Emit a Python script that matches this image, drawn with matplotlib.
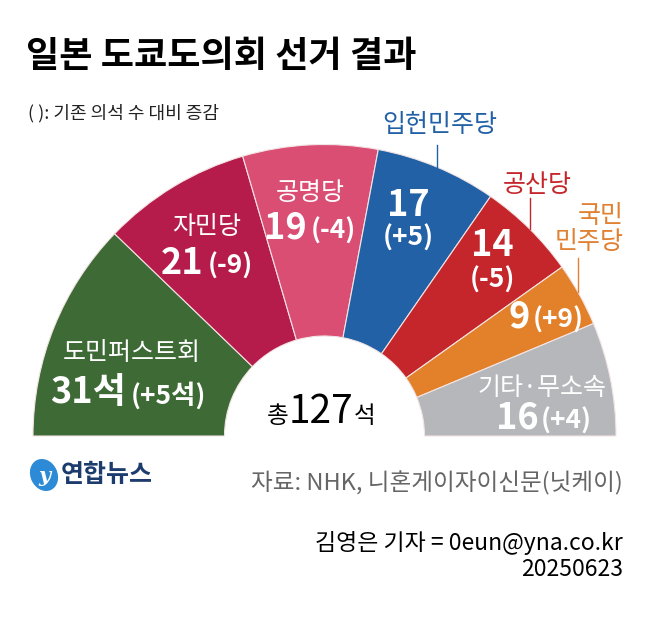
import numpy as np
import matplotlib.pyplot as plt
from matplotlib.patches import Wedge, Ellipse
from matplotlib.offsetbox import TextArea, HPacker, AnnotationBbox

plt.rcParams['font.family'] = ['Noto Sans CJK KR', 'DejaVu Sans']

# data
parties = ['도민퍼스트회', '자민당', '공명당', '입헌민주당', '공산당', '국민\n민주당', '기타·무소속']
seats = [31, 21, 19, 17, 14, 9, 16]
seat_text = ['31석', '21', '19', '17', '14', '9', '16']
changes = ['(+5석)', '(-9)', '(-4)', '(+5)', '(-5)', '(+9)', '(+4)']
colors = ['#3d6a35', '#b61c4b', '#da4e74', '#2261a6', '#c5262b', '#e3812b', '#b6b7ba']
total = sum(seats)

CX, CY, R, R_IN = 324.5, 436, 291.5, 100
NUM = ['Noto Sans CJK KR', 'DejaVu Sans']
KR = ['Noto Sans CJK KR', 'DejaVu Sans']

fig = plt.figure(figsize=(6.5, 6.4), dpi=100)
ax = fig.add_axes([0, 0, 1, 1])
ax.set_xlim(0, 650)
ax.set_ylim(640, 0)
ax.axis('off')

# half donut, left to right
start = 180.0
for s, c in zip(seats, colors):
    span = s / total * 180
    ax.add_patch(Wedge((CX, CY), R, start, start + span, width=R - R_IN,
                       facecolor=c, edgecolor='#f2e4e4', linewidth=0.8))
    start += span


def mixed(parts, xy, color='white', sep=2):
    # parts: list of (text, size, family, weight)
    areas = [TextArea(t, textprops=dict(fontsize=sz, family=fam, weight=w, color=color))
             for t, sz, fam, w in parts]
    box = HPacker(children=areas, align='baseline', pad=0, sep=sep)
    ab = AnnotationBbox(box, xy, xycoords='data', frameon=False,
                        box_alignment=(0.5, 0.5), pad=0)
    ax.add_artist(ab)


def leader(x, y0, color):
    y1 = CY - np.sqrt(R ** 2 - (x - CX) ** 2)
    ax.plot([x, x], [y0, y1], color=color, lw=1)


NAME = 18
BIG = 26
SMALL = 19

# inside labels on one line
inline = {0: ((132, 353), (128, 393)),
          1: ((207, 227), (207, 263)),
          2: ((310, 193), (310, 228)),
          6: ((542, 388), (544, 418))}
for i, (pn, pv) in inline.items():
    ax.text(pn[0], pn[1], parties[i], color='white', fontsize=NAME,
            ha='center', va='center')
    mixed([(seat_text[i], BIG, NUM, 'bold'), (changes[i], SMALL, NUM, 'bold')], pv,
          sep=1 if i == 6 else 3)

# 입헌민주당
ax.text(440, 125, parties[3], color=colors[3], fontsize=NAME, ha='center', va='center')
leader(437, 145, colors[3])
ax.text(408, 205, seat_text[3], color='white', fontsize=BIG, family=NUM,
        weight='bold', ha='center', va='center')
ax.text(408, 238, changes[3], color='white', fontsize=SMALL, family=NUM,
        weight='bold', ha='center', va='center')

# 공산당
ax.text(537, 185, parties[4], color=colors[4], fontsize=NAME, ha='center', va='center')
leader(530, 198, colors[4])
ax.text(492, 245, seat_text[4], color='white', fontsize=BIG, family=NUM,
        weight='bold', ha='center', va='center')
ax.text(492, 280, changes[4], color='white', fontsize=SMALL, family=NUM,
        weight='bold', ha='center', va='center')

# 국민민주당
ax.text(624, 229, parties[5], color='#e08030', fontsize=NAME, ha='right',
        va='center', linespacing=1.0)
leader(578, 258, '#e08030')
mixed([(seat_text[5], BIG, NUM, 'bold'), (changes[5], SMALL, NUM, 'bold')], (546, 317))

# total in the hole
mixed([('총', 17, KR, 'normal'), (str(total), 28, NUM, 'normal'), ('석', 17, KR, 'normal')],
      (321, 412), color='black', sep=0)

# titles
ax.text(26, 57, '일본 도쿄도의회 선거 결과', fontsize=26, weight='bold',
        ha='left', va='center', color='black')
ax.text(28, 113, '( ): 기존 의석 수 대비 증감', fontsize=13,
        ha='left', va='center', color='#222222')

# logo
ax.add_patch(Ellipse((44, 475), 27, 33, angle=-25, facecolor='#2c8ad6', edgecolor='none'))
ax.text(44, 476, 'y', color='white', fontsize=15, style='italic', weight='bold',
        family='DejaVu Serif', ha='center', va='center')
ax.text(61, 475, '연합뉴스', color='#1d3c6e', fontsize=18, weight='bold',
        ha='left', va='center')

# source / byline
ax.text(623, 483, '자료: NHK, 니혼게이자이신문(닛케이)', fontsize=17, color='#666666',
        ha='right', va='center')
ax.text(623, 543, '김영은 기자 = 0eun@yna.co.kr', fontsize=16.5, color='black',
        ha='right', va='center')
ax.text(623, 569, '20250623', fontsize=16.5, color='black', ha='right', va='center')

fig.savefig('out.png', dpi=100, facecolor='white')
